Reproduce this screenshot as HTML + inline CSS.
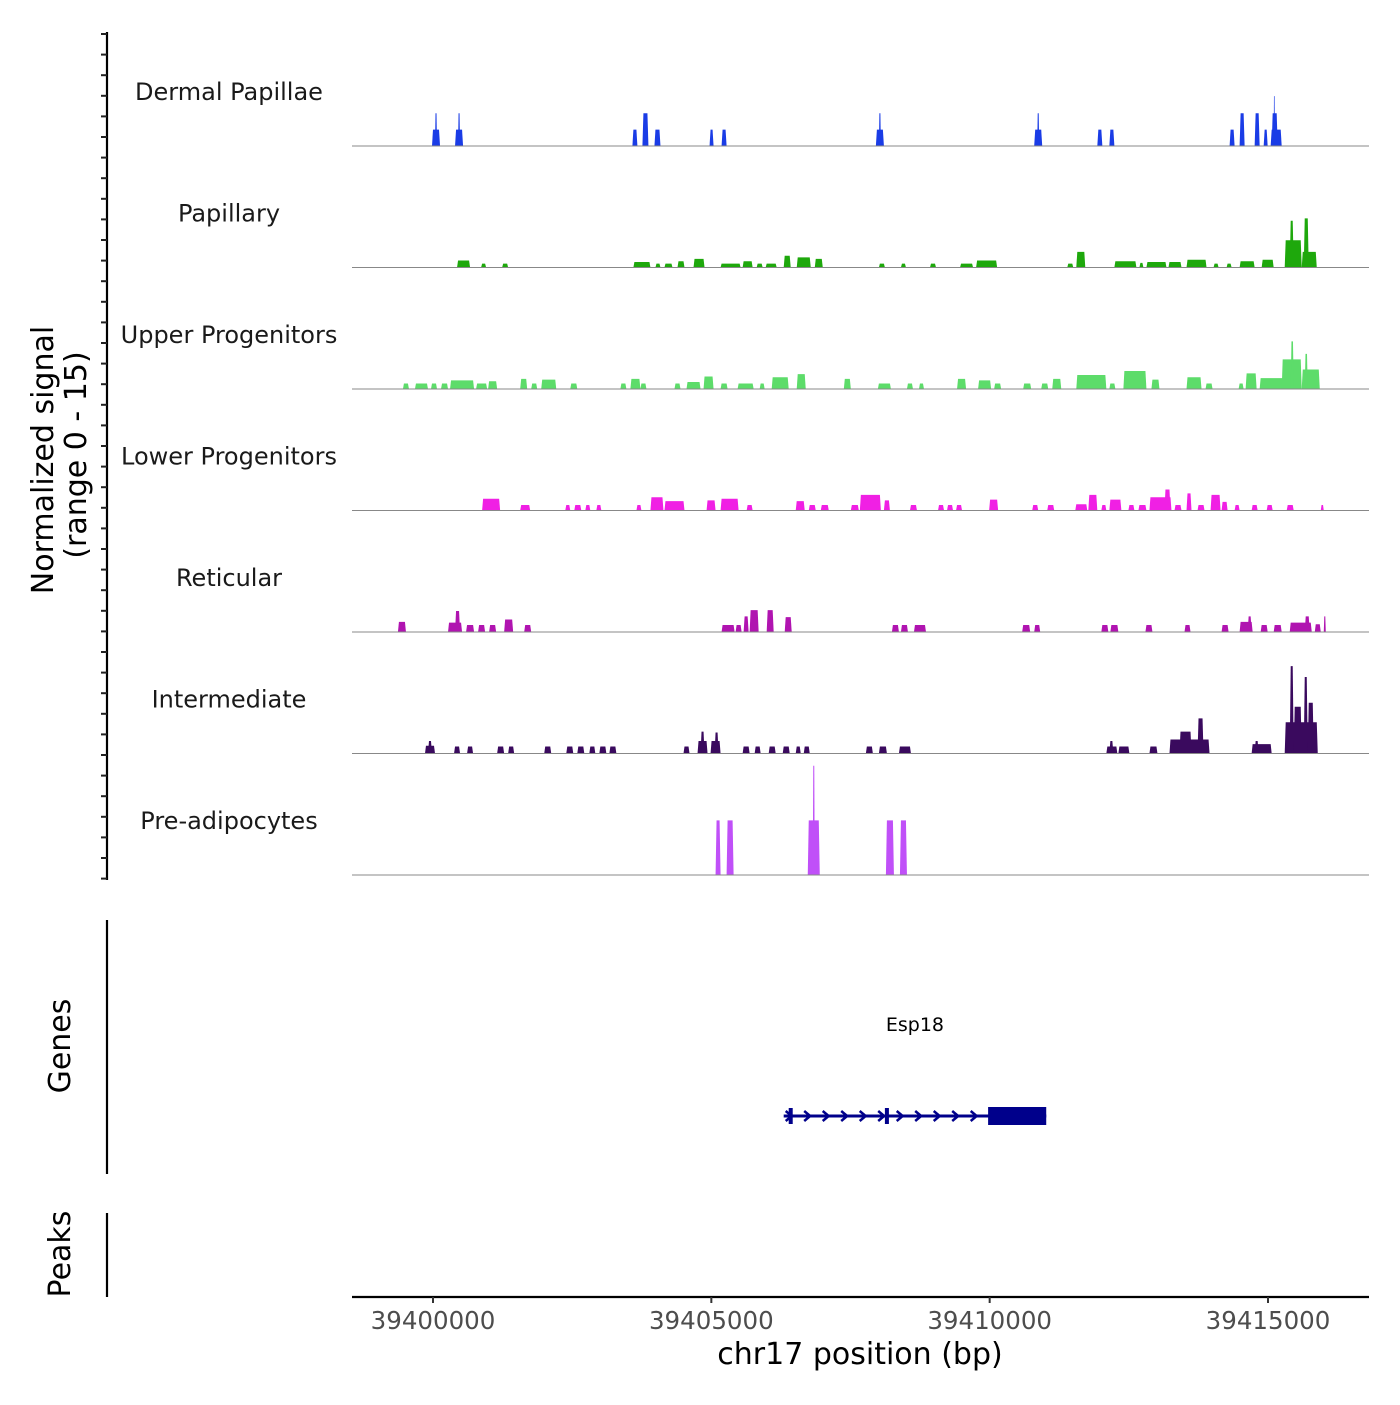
<!DOCTYPE html>
<html><head><meta charset="utf-8"><style>
body{margin:0;background:#fff;}
svg text{font-family:"DejaVu Sans","Liberation Sans",sans-serif;}
</style></head><body>
<svg id="chart" width="1400" height="1400" viewBox="0 0 1400 1400" xmlns="http://www.w3.org/2000/svg">
<g id="axes"></g>
<g id="tracks"></g>
<g id="gene"></g>
</svg>
<script>
const regionAnchor = 39400000;
const trackNames = ["Dermal Papillae","Papillary","Upper Progenitors","Lower Progenitors","Reticular","Intermediate","Pre-adipocytes"];
const trackColors = ["#1a3ce6","#1ea80c","#5ddc6a","#f020e4","#b014b0","#3a0a5e","#c050f8"];
const xTicks = [39400000,39405000,39410000,39415000];
const dermalPeaks = [[-18,126,2.1],[36,72,4.2],[396,540,2.1],[450,486,4.2],[3582,3672,2.1],[3762,3870,4.2],[3978,4086,2.1],[4968,5040,2.1],[5184,5274,2.1],[7956,8100,2.1],[8010,8046,4.2],[10800,10944,2.1],[10854,10890,4.2],[11934,12024,2.1],[12150,12240,2.1],[14310,14400,2.1],[14490,14580,4.2],[14760,14850,4.2],[14922,14994,2.1],[15048,15246,2.1],[15066,15174,4.2],[15102,15120,6.4]];
const papillaryPeaks = [[432,666,0.9],[864,954,0.5],[1242,1350,0.5],[3600,3906,0.7],[3996,4086,0.5],[4158,4302,0.5],[4392,4518,0.8],[4680,4878,1.1],[5166,5526,0.5],[5562,5742,0.8],[5814,5922,0.5],[5976,6174,0.5],[6300,6426,1.5],[6534,6786,1.3],[6858,7002,1.1],[8010,8118,0.5],[8406,8496,0.5],[8928,9036,0.5],[9468,9702,0.5],[9756,10134,0.9],[11394,11502,0.5],[11556,11718,2.0],[12240,12636,0.8],[12690,12762,0.6],[12816,13176,0.7],[13212,13446,0.7],[13536,13896,1.0],[14022,14112,0.5],[14256,14346,0.5],[14490,14760,0.8],[14886,15102,1.0],[15300,15606,3.5],[15390,15462,6.0],[15606,15876,2.0],[15642,15732,6.3]];
const upperPeaks = [[-540,-432,0.7],[-324,-90,0.7],[-36,72,0.7],[144,270,0.7],[306,738,1.1],[774,972,0.7],[990,1152,1.0],[1566,1692,1.3],[1764,1872,0.7],[1944,2214,1.2],[2466,2592,0.7],[3366,3474,0.7],[3546,3726,1.3],[3726,3834,0.7],[4338,4446,0.7],[4554,4806,0.9],[4860,5040,1.6],[5166,5292,0.7],[5472,5760,0.7],[5868,5958,0.7],[6084,6390,1.5],[6534,6696,1.9],[7380,7506,1.3],[7992,8226,0.7],[8514,8622,0.7],[8730,8820,0.7],[9414,9576,1.3],[9792,10026,1.1],[10080,10206,0.7],[10602,10746,0.7],[10926,11052,0.7],[11124,11286,1.3],[11556,12096,1.8],[12150,12258,0.7],[12402,12816,2.3],[12906,13050,1.2],[13536,13806,1.5],[13878,14004,0.7],[14472,14562,0.7],[14598,14796,2.0],[14850,15282,1.4],[15246,15606,3.8],[15408,15462,6.1],[15606,15930,2.5],[15660,15714,4.5]];
const lowerPeaks = [[882,1206,1.5],[1566,1746,0.7],[2376,2466,0.7],[2538,2664,0.7],[2736,2826,0.7],[2934,3024,0.7],[3654,3744,0.7],[3906,4140,1.7],[4158,4518,1.2],[4914,5076,1.3],[5166,5490,1.5],[5634,5742,0.7],[6516,6678,1.2],[6750,6876,0.7],[6966,7110,0.7],[7506,7650,0.7],[7668,8046,2.0],[8100,8208,1.3],[8568,8694,0.7],[9072,9180,0.7],[9234,9342,0.7],[9396,9504,0.7],[9990,10152,1.4],[10764,10872,0.7],[11034,11160,0.7],[11538,11754,0.8],[11772,11934,2.0],[12006,12096,0.7],[12150,12366,1.4],[12492,12600,0.7],[12672,12816,0.7],[12870,13266,1.7],[13140,13248,2.7],[13320,13446,0.7],[13536,13626,2.2],[13734,13860,0.7],[13968,14148,2.0],[14166,14274,1.1],[14400,14490,0.7],[14706,14814,0.7],[14976,15084,0.7],[15336,15462,0.7],[15948,16002,0.7]];
const reticularPeaks = [[-630,-486,1.3],[270,522,1.2],[396,486,2.7],[594,738,0.9],[810,936,0.9],[1008,1134,0.9],[1278,1440,1.6],[1638,1764,0.9],[5184,5418,0.9],[5436,5544,0.9],[5580,5670,2.0],[5688,5850,2.8],[5994,6120,2.8],[6318,6444,1.9],[8244,8370,0.9],[8406,8532,0.9],[8640,8856,0.9],[10584,10728,0.9],[10800,10908,0.9],[12006,12132,0.9],[12168,12312,0.9],[12798,12924,0.9],[13500,13608,0.9],[14166,14292,0.9],[14490,14724,1.3],[14634,14706,2.0],[14868,14994,0.9],[15102,15246,0.9],[15390,15786,1.2],[15660,15750,2.0],[15840,15948,1.0],[16002,16038,2.0]];
const intermediatePeaks = [[-144,36,1.0],[-90,-18,1.6],[378,486,0.9],[612,720,0.9],[1152,1278,0.9],[1350,1458,0.9],[1998,2124,0.9],[2394,2520,0.9],[2592,2718,0.9],[2808,2916,0.9],[2988,3114,0.9],[3168,3294,0.9],[4500,4608,0.9],[4752,4932,1.6],[4806,4878,2.8],[4986,5166,1.6],[5058,5130,2.7],[5562,5688,0.9],[5778,5886,0.9],[6030,6156,0.9],[6282,6408,0.9],[6516,6606,0.9],[6660,6768,0.9],[7776,7902,0.9],[8010,8154,0.9],[8370,8586,0.9],[12096,12294,0.9],[12150,12222,1.6],[12312,12510,0.9],[12870,13014,0.9],[13230,13950,1.8],[13410,13626,2.8],[13734,13842,4.5],[14706,15066,1.2],[14760,14832,1.6],[15300,15894,4.0],[15390,15462,11.2],[15462,15606,6],[15642,15714,9.8],[15714,15822,6.5]];
const preadipocytePeaks = [[5076,5166,7.0],[5274,5400,7.0],[6732,6948,7.0],[6822,6858,14],[8136,8280,7.0],[8388,8514,7.0]];
const allPeaks = [dermalPeaks,papillaryPeaks,upperPeaks,lowerPeaks,reticularPeaks,intermediatePeaks,preadipocytePeaks];
const geneName = "Esp18";
const geneStart = 6300, geneEnd = 11016;
const geneExons = [[6390,6462],[8118,8190],[9972,11016]];

const NS = "http://www.w3.org/2000/svg";
function mk(parent, tag, attrs){const e=document.createElementNS(NS,tag);for(const k in attrs)e.setAttribute(k,attrs[k]);parent.appendChild(e);return e;}
const xScale = off => 433 + off * (835/15000);
const xAbs = bp => xScale(bp - regionAnchor);
const trackTop = 25, trackH = 121.5, pxPerUnit = 7.8;
const baseY = i => trackTop + trackH*(i+1) - 0.5;
const yScale = (i,v) => baseY(i) - v*pxPerUnit;

const axes = document.getElementById('axes');
const tracksG = document.getElementById('tracks');
const geneG = document.getElementById('gene');

let l = mk(axes,'line',{x1:107,y1:32,x2:107,y2:880,stroke:'#000','stroke-width':2.2});


for(let y=34; y<=879; y+=20.6){
  const t = mk(axes,'line',{x1:101,y1:y,x2:107,y2:y,stroke:'#222','stroke-width':2});
  
  
}
let t1 = mk(axes,'text',{x:0,y:0,'font-size':30,'text-anchor':'middle',transform:'translate(53,460) rotate(-90)'});
t1.textContent='Normalized signal';


let t2 = mk(axes,'text',{x:0,y:0,'font-size':30,'text-anchor':'middle',transform:'translate(86,455) rotate(-90)'});
t2.textContent='(range 0 - 15)';


let gl = mk(axes,'line',{x1:107,y1:920,x2:107,y2:1174,stroke:'#000','stroke-width':2.2});


let gt = mk(axes,'text',{x:0,y:0,'font-size':30,'text-anchor':'middle',transform:'translate(70,1046) rotate(-90)'});
gt.textContent='Genes';


let pl = mk(axes,'line',{x1:107,y1:1213,x2:107,y2:1297,stroke:'#000','stroke-width':2.2});


let pt = mk(axes,'text',{x:0,y:0,'font-size':30,'text-anchor':'middle',transform:'translate(70,1254) rotate(-90)'});
pt.textContent='Peaks';



let xl = mk(axes,'line',{x1:352,y1:1297,x2:1369,y2:1297,stroke:'#000','stroke-width':2.2});


xTicks.forEach(v=>{
  const x = xAbs(v);
  const tk = mk(axes,'line',{x1:x,y1:1297,x2:x,y2:1303,stroke:'#333','stroke-width':2});
  
  
  const tx = mk(axes,'text',{x:x,y:1329,'font-size':24.5,'text-anchor':'middle',fill:'#4d4d4d'});
  tx.textContent = String(v);
  
  
});
let xt = mk(axes,'text',{x:860,y:1364,'font-size':30,'text-anchor':'middle'});
xt.textContent='chr17 position (bp)';



trackNames.forEach((name,i)=>{
  const g = mk(tracksG,'g',{});
  
  
  const lab = mk(g,'text',{x:229,y:baseY(i)-46,'font-size':24,'text-anchor':'middle',fill:'#1a1a1a'});
  lab.textContent = name;
  
  
  allPeaks[i].forEach(p=>{
    const x0 = xScale(p[0]), x1 = Math.max(xScale(p[1]), x0+1.2);
    const y0 = baseY(i), y1 = yScale(i,p[2]);
    const s = Math.min(1,(x1-x0)/4);
    const poly = mk(g,'polygon',{points:`${x0},${y0} ${x0+s},${y1} ${x1-s},${y1} ${x1},${y0}`,fill:trackColors[i]});
    
    
  });
  const bl = mk(g,'line',{x1:352,y1:baseY(i),x2:1369,y2:baseY(i),stroke:'#888','stroke-width':1});
  
  
});

const gy = 1116;
const gline = mk(geneG,'line',{x1:xScale(geneStart),y1:gy,x2:xScale(geneEnd),y2:gy,stroke:'#00008b','stroke-width':3});


for(let x=xScale(geneStart)+2; x<xScale(geneExons[2][0])-4; x+=18.5){
  const ch = mk(geneG,'polyline',{points:`${x},${gy-5} ${x+6},${gy} ${x},${gy+5}`,fill:'none',stroke:'#00008b','stroke-width':2.5});
  
  
}
geneExons.forEach((e,k)=>{
  const x0=xScale(e[0]), x1=xScale(e[1]);
  const h = k===2?18:16;
  const r = mk(geneG,'rect',{x:x0,y:gy-h/2,width:Math.max(x1-x0,4),height:h,fill:'#00008b'});
  
  
});
const gn = mk(geneG,'text',{x:(xScale(geneStart)+xScale(geneEnd))/2,y:1031,'font-size':19,'text-anchor':'middle'});
gn.textContent = geneName;


</script>
</body></html>
